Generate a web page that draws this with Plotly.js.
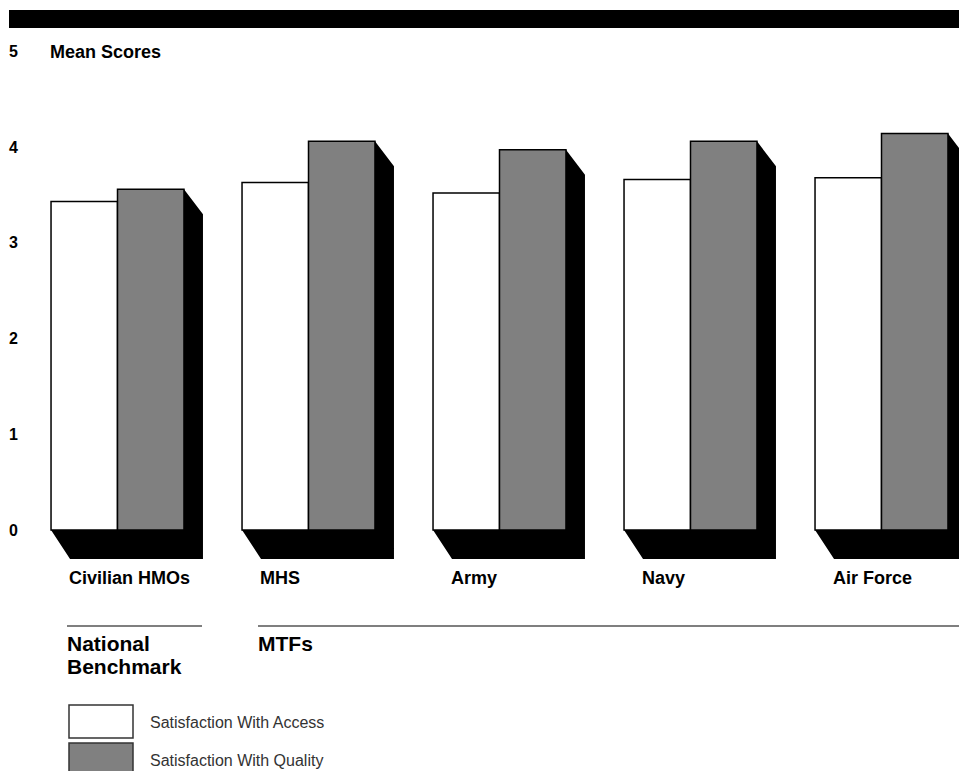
<!DOCTYPE html>
<html>
<head>
<meta charset="utf-8">
<script src="https://cdn.plot.ly/plotly-3.0.1.min.js"></script>
<style>
  html, body { margin: 0; padding: 0; background: #fff; }
  #chart { width: 959px; height: 771px; }
</style>
</head>
<body>
<div id="chart"></div>
<script>
// ---- data ----
const categories = ['Civilian HMOs', 'MHS', 'Army', 'Navy', 'Air Force'];
const accessScores = [3.43, 3.63, 3.52, 3.66, 3.68];
const qualityScores = [3.56, 4.06, 3.97, 4.06, 4.14];
const yTickValues = [0, 1, 2, 3, 4, 5];
const yTickLabels = ['0', '1', '2', '3', '4', '5'];
const seriesNames = ['Satisfaction With Access', 'Satisfaction With Quality'];
const groupLabels = ['National', 'Benchmark', 'MTFs'];
const axisTitle = 'Mean Scores';

// ---- layout geometry (pixels) ----
const W = 959, H = 771;
const PL = 22, PT = 30, PW = 937, PH = 540;
const unitX = 191;            // px per category
const unitY = 95.75;          // px per score point
const zeroY = 530;            // px of y = 0
const barW = 0.348;           // data units
const xMin = -0.5, xMax = xMin + PW / unitX;
const yMax = (zeroY - PT) / unitY, yMin = -(PT + PH - zeroY) / unitY;
const px = v => (v - PL) / PW;
const py = v => (PT + PH - v) / PH;
const shadowDx = 19 / unitX, shadowTop = 25 / unitY, shadowBottom = 29 / unitY;

const xs = categories.map((c, i) => i);
const FONT = 'Liberation Sans, Arial, Helvetica, sans-serif';

const traces = [];
// shadows (drawn via scatter fill polygons, computed from data)
xs.forEach((x, i) => {
  const x0 = x - barW, x1 = x + barW;
  const top = qualityScores[i];
  traces.push({
    type: 'scatter', mode: 'lines', fill: 'toself',
    x: [x0, x0 + shadowDx, x1 + shadowDx, x1 + shadowDx, x1, x1, x0],
    y: [0, -shadowBottom, -shadowBottom, top - shadowTop, top, 0, 0],
    fillcolor: '#000', line: { color: '#000', width: 0 },
    hoverinfo: 'skip', showlegend: false
  });
});
traces.push({
  type: 'bar', name: seriesNames[0], x: xs, y: accessScores,
  width: barW, offset: -barW,
  marker: { color: '#ffffff', line: { color: '#000', width: 1.5 } },
  showlegend: false
});
traces.push({
  type: 'bar', name: seriesNames[1], x: xs, y: qualityScores,
  width: barW, offset: 0,
  marker: { color: '#808080', line: { color: '#000', width: 1.5 } },
  showlegend: false
});

const annotations = [];
annotations.push({
  text: axisTitle, xref: 'paper', yref: 'paper', x: px(48), y: py(52),
  xanchor: 'left', yanchor: 'middle', showarrow: false,
  font: { family: FONT, size: 18, color: '#000', weight: 'bold' }
});
categories.forEach((c, i) => {
  annotations.push({
    text: c, xref: 'x', yref: 'paper', x: i - barW + 16 / unitX, y: py(578),
    xanchor: 'left', yanchor: 'middle', showarrow: false,
    font: { family: FONT, size: 18, color: '#000', weight: 'bold' }
  });
});
annotations.push({
  text: groupLabels[0], xref: 'paper', yref: 'paper', x: px(65), y: py(643),
  xanchor: 'left', yanchor: 'middle', showarrow: false,
  font: { family: FONT, size: 21, color: '#000', weight: 'bold' }
});
annotations.push({
  text: groupLabels[1], xref: 'paper', yref: 'paper', x: px(65), y: py(666),
  xanchor: 'left', yanchor: 'middle', showarrow: false,
  font: { family: FONT, size: 21, color: '#000', weight: 'bold' }
});
annotations.push({
  text: groupLabels[2], xref: 'paper', yref: 'paper', x: px(256), y: py(643),
  xanchor: 'left', yanchor: 'middle', showarrow: false,
  font: { family: FONT, size: 21, color: '#000', weight: 'bold' }
});
annotations.push({
  text: seriesNames[0], xref: 'paper', yref: 'paper', x: px(148), y: py(722),
  xanchor: 'left', yanchor: 'middle', showarrow: false,
  font: { family: FONT, size: 16, color: '#333' }
});
annotations.push({
  text: seriesNames[1], xref: 'paper', yref: 'paper', x: px(148), y: py(760),
  xanchor: 'left', yanchor: 'middle', showarrow: false,
  font: { family: FONT, size: 16, color: '#333' }
});

const shapes = [
  // top black band
  { type: 'rect', xref: 'paper', yref: 'paper', x0: px(9), x1: px(W + 5), y0: py(28), y1: py(10),
    fillcolor: '#000', line: { width: 0 } },
  // group rules
  { type: 'line', xref: 'paper', yref: 'paper', x0: px(67), x1: px(202), y0: py(626), y1: py(626),
    line: { color: '#555', width: 1.6 } },
  { type: 'line', xref: 'paper', yref: 'paper', x0: px(258), x1: px(W + 5), y0: py(626), y1: py(626),
    line: { color: '#555', width: 1.6 } },
  // legend swatches
  { type: 'rect', xref: 'paper', yref: 'paper', x0: px(69), x1: px(133), y0: py(738), y1: py(705),
    fillcolor: '#fff', line: { color: '#333', width: 1.5 } },
  { type: 'rect', xref: 'paper', yref: 'paper', x0: px(69), x1: px(133), y0: py(778), y1: py(743),
    fillcolor: '#808080', line: { color: '#333', width: 1.5 } }
];

const layout = {
  width: W, height: H,
  margin: { l: PL, r: W - PL - PW, t: PT, b: H - PT - PH, pad: 0 },
  paper_bgcolor: '#fff', plot_bgcolor: 'rgba(0,0,0,0)',
  showlegend: false,
  xaxis: { range: [xMin, xMax], showgrid: false, zeroline: false, showline: false,
           showticklabels: false, ticks: '', fixedrange: true },
  yaxis: { range: [yMin, yMax], tickvals: yTickValues, ticktext: yTickLabels,
           showgrid: false, zeroline: false, showline: false, ticks: '',
           ticklabelstandoff: 3,
           tickfont: { family: FONT, size: 16, color: '#000', weight: 'bold' },
           fixedrange: true },
  annotations: annotations,
  shapes: shapes
};

Plotly.newPlot('chart', traces, layout, { displayModeBar: false, staticPlot: true });
</script>
</body>
</html>
